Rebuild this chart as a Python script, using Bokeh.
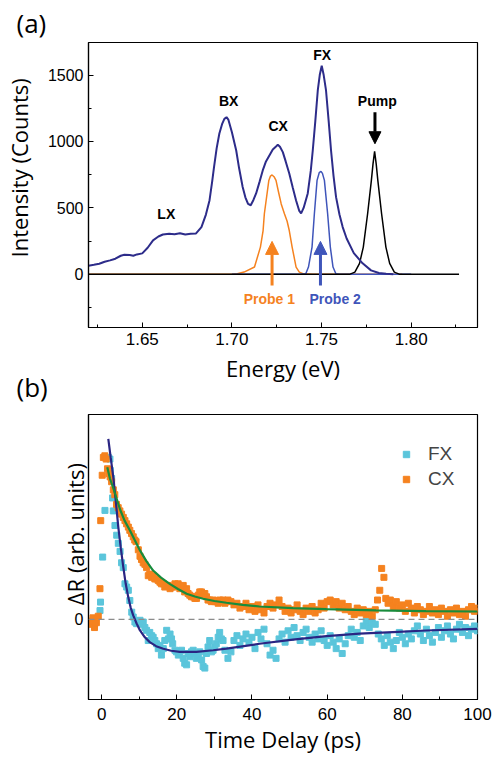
from bokeh.plotting import figure
from bokeh.models import (Range1d, SingleIntervalTicker, FixedTicker, NumeralTickFormatter,
                          Label, Arrow, NormalHead, Span, Legend, LegendItem)
from bokeh.layouts import column
from bokeh.embed import file_html
from bokeh.resources import INLINE

# ---------------- Panel (a) data : PL spectrum and laser spectra ----------------
pl_energy = [1.620, 1.623, 1.626, 1.629, 1.632, 1.635, 1.638, 1.640, 1.643, 1.645, 1.647, 1.650,
             1.653, 1.656, 1.659, 1.6615, 1.665, 1.668, 1.671, 1.674, 1.677, 1.680, 1.683, 1.6855,
             1.6875, 1.689, 1.690, 1.6915, 1.693, 1.6945, 1.6958, 1.697, 1.698, 1.700, 1.7024,
             1.704, 1.706, 1.7075, 1.709, 1.7105, 1.712, 1.7135, 1.7155, 1.7172, 1.719, 1.7209,
             1.7228, 1.7246, 1.7256, 1.7268, 1.7284, 1.730, 1.732, 1.734, 1.7358, 1.7375, 1.7386,
             1.740, 1.7423, 1.744, 1.7451, 1.7465, 1.7479, 1.749, 1.7501, 1.7512, 1.7525, 1.754,
             1.7553, 1.7567, 1.7581, 1.760, 1.7618, 1.7640, 1.768, 1.7729, 1.7776, 1.782, 1.786, 1.790]
pl_counts = [65, 72, 80, 95, 105, 118, 140, 148, 145, 140, 150, 158,
             200, 256, 285, 300, 306, 302, 310, 300, 306, 308, 355, 450,
             556, 700, 805, 950, 1060, 1130, 1170, 1183, 1165, 1070, 932,
             800, 657, 580, 530, 520, 560, 609, 700, 782, 850, 895,
             940, 962, 975, 960, 920, 850, 759, 650, 556, 480, 459,
             500, 609, 780, 932, 1150, 1384, 1500, 1570, 1500, 1384, 1150,
             932, 740, 581, 450, 356, 270, 160, 83, 30, 10, 4, 0]

probe1_energy = [1.620, 1.700, 1.703, 1.7068, 1.7126, 1.7159, 1.7174, 1.7181, 1.7206, 1.7215, 1.7224,
                 1.7235, 1.7246, 1.726, 1.7275, 1.7293, 1.7308, 1.732, 1.7336, 1.7358, 1.7376, 1.740,
                 1.745, 1.795]
probe1_counts = [0, 0, 4, 17, 55, 205, 330, 456, 707, 740, 748,
                 735, 707, 620, 530, 456, 400, 330, 205, 55, 17, 4,
                 0, 0]

probe2_energy = [1.700, 1.738, 1.7412, 1.7427, 1.7447, 1.746, 1.7475, 1.7487, 1.7497, 1.7505, 1.7516,
                 1.7534, 1.7549, 1.7564, 1.758, 1.760, 1.800]
probe2_counts = [0, 0, 5, 55, 205, 456, 707, 765, 775, 760, 707,
                 456, 205, 55, 5, 0, 0]

pump_energy = [1.620, 1.7656, 1.7686, 1.7712, 1.7733, 1.7757, 1.7778, 1.7787, 1.7796, 1.7805, 1.7814,
               1.7835, 1.7859, 1.788, 1.7906, 1.7936, 1.8267]
pump_counts = [0, 0, 17, 83, 205, 456, 707, 830, 925, 830, 707,
               456, 205, 83, 17, 0, 0]

# ---------------- Panel (b) data : differential reflectance ----------------
cx_time = [-3.3, -2.8, -2.3, -1.9, -1.4, -0.9, -0.45, -0.25, 0.15, 0.45, 0.85, 1.2, 1.55, 1.9, 2.25,
           2.65, 3.1, 3.5, 3.95, 4.4, 4.85, 5.3, 5.75, 6.2, 6.65, 7.1, 7.5, 7.95, 8.4, 8.8, 9.15,
           9.75, 10.2, 10.6, 11.05, 11.5, 11.95, 12.4, 12.8, 13.3, 13.7, 14.15, 14.6, 15.05, 15.5,
           15.9, 16.4, 16.8, 17.3, 17.7, 18.2, 18.6, 19.05, 19.5, 19.9, 20.35, 20.8, 21.25, 21.7,
           22.1, 22.6, 23.0, 23.45, 23.9, 24.35, 24.8, 25.25, 25.7, 26.1, 26.55, 27.0, 27.45, 27.9,
           28.3, 28.75, 29.2, 29.65, 30.1, 30.55, 31.0, 31.4, 31.85, 32.3, 32.8,
           33.6, 34.4, 35.2, 36.0, 36.8, 37.6, 38.4, 39.2, 40.0, 40.8, 41.6, 42.4, 43.2, 44.0, 44.8,
           45.6, 46.4, 47.2, 48.0, 48.8, 49.6, 50.4, 51.2, 52.0, 52.8, 53.6, 54.4, 55.2, 56.0, 56.8,
           57.6, 58.4, 59.2, 60.0, 60.8, 61.6, 62.4, 63.2, 64.0, 64.8, 65.6, 66.4, 67.2, 68.0, 68.8,
           69.6, 70.4, 71.2, 72.0, 72.8, 73.4, 74.0, 74.5, 75.1, 75.6, 76.2, 76.8, 77.6, 78.4, 79.2,
           80.0, 80.8, 81.6, 82.4, 83.2, 84.0, 84.8, 85.6, 86.4, 87.2, 88.0, 88.8, 89.6, 90.4, 91.2,
           92.0, 92.8, 93.6, 94.4, 95.2, 96.0, 96.8, 97.6, 98.4, 99.2, 100.0]
cx_signal = [-0.03, -0.01, 0.01, -0.05, -0.02, 0.02, 0.19, 0.61, 0.89, 1.0, 1.01, 0.99, 0.93, 0.9, 0.88,
             0.85, 0.8, 0.77, 0.71, 0.69, 0.67, 0.65, 0.63, 0.61, 0.59, 0.57, 0.55, 0.53, 0.51, 0.49, 0.48,
             0.43, 0.39, 0.37, 0.35, 0.34, 0.32, 0.27, 0.28, 0.26, 0.27, 0.25, 0.25, 0.24, 0.23,
             0.22, 0.22, 0.2, 0.21, 0.21, 0.19, 0.2, 0.2, 0.22, 0.21, 0.22, 0.19, 0.2, 0.21,
             0.17, 0.19, 0.16, 0.15, 0.14, 0.14, 0.13, 0.13, 0.15, 0.17, 0.17, 0.15, 0.16, 0.14,
             0.12, 0.12, 0.11, 0.12, 0.11, 0.11, 0.1, 0.12, 0.11, 0.12, 0.1,
             0.12, 0.11, 0.09, 0.10, 0.07, 0.08, 0.10, 0.06, 0.08, 0.05, 0.09, 0.06, 0.04, 0.08, 0.10,
             0.07, 0.09, 0.12, 0.08, 0.05, 0.07, 0.04, 0.06, 0.09, 0.05, 0.03, 0.07, 0.05, 0.08, 0.04,
             0.06, 0.10, 0.07, 0.11, 0.12, 0.09, 0.11, 0.07, 0.10, 0.06, 0.08, 0.05, 0.03, 0.07, 0.04,
             0.06, 0.03, 0.05, 0.02, 0.06, 0.12, 0.18, 0.315, 0.26, 0.13, 0.10, 0.12, 0.08, 0.11, 0.07,
             0.09, 0.05, 0.10, 0.07, 0.04, 0.08, 0.06, 0.03, 0.05, 0.08, 0.04, 0.06, 0.03, 0.07, 0.05,
             0.02, 0.06, 0.04, 0.07, 0.03, 0.05, 0.02, 0.06, 0.08, 0.05, 0.07]

fx_time = [-0.44, -0.3, 0.27, 0.88, 1.77, 2.2, 2.3, 2.66, 2.9, 3.1, 3.54, 4.0, 4.43, 4.9, 5.3, 5.75,
           6.2, 6.65, 7.1, 7.5, 8.0, 8.4, 8.85, 9.3, 9.75, 10.2, 10.6, 11.06, 11.5, 11.95, 12.4, 12.8,
           13.3, 13.7, 14.15, 14.6, 15.05, 15.5, 15.9, 16.4, 16.8, 17.3, 17.75, 18.2, 18.6, 18.9,
           19.5, 19.9, 20.4, 20.8, 21.25, 21.7, 22.1, 22.6, 23.0, 23.5, 23.9, 24.35, 24.8, 25.2,
           25.7, 26.1, 26.6, 27.0, 27.45, 27.9, 28.3, 28.75, 29.2, 29.65, 30.1, 30.5, 31.0, 31.4,
           31.85, 32.3, 32.8,
           33.6, 34.4, 35.2, 36.0, 36.8, 37.6, 38.4, 39.2, 40.0, 40.8, 41.6, 42.4, 43.2, 44.0, 44.8,
           45.6, 46.4, 47.2, 48.0, 48.8, 49.6, 50.4, 51.2, 52.0, 52.8, 53.6, 54.4, 55.2, 56.0, 56.8,
           57.6, 58.4, 59.2, 60.0, 60.8, 61.6, 62.4, 63.2, 64.0, 64.8, 65.6, 66.4, 67.2, 68.0, 68.8,
           69.6, 70.4, 71.2, 72.0, 72.8, 73.6, 74.4, 75.2, 76.0, 76.8, 77.6, 78.4, 79.2,
           80.0, 80.8, 81.6, 82.4, 83.2, 84.0, 84.8, 85.6, 86.4, 87.2, 88.0, 88.8, 89.6, 90.4, 91.2,
           92.0, 92.8, 93.6, 94.4, 95.2, 96.0, 96.8, 97.6, 98.4, 99.2, 100.0]
fx_signal = [0.055, 0.107, 0.385, 0.673, 1.0, 0.99, 0.92, 0.87, 0.75, 0.67, 0.58, 0.52, 0.47, 0.42, 0.35, 0.32,
             0.22, 0.2, 0.18, 0.117, 0.045, 0.015, -0.016, -0.026, -0.01, -0.005, -0.03, -0.016, -0.05, -0.067, -0.13, -0.08,
             -0.1, -0.11, -0.13, -0.15, -0.18, -0.16, -0.22, -0.18, -0.13, -0.067, -0.12, -0.09, -0.12, -0.15,
             -0.19, -0.2, -0.22, -0.2, -0.19, -0.24, -0.27, -0.28, -0.21, -0.23, -0.2, -0.19, -0.21, -0.24,
             -0.22, -0.2, -0.25, -0.29, -0.3, -0.21, -0.17, -0.13, -0.2, -0.19, -0.17, -0.15, -0.11, -0.08,
             -0.12, -0.13, -0.19,
             -0.24, -0.20, -0.13, -0.10, -0.16, -0.12, -0.09, -0.14, -0.11, -0.18, -0.08, -0.12, -0.06, -0.15, -0.22,
             -0.19, -0.24, -0.12, -0.09, -0.14, -0.07, -0.11, -0.05, -0.10, -0.13, -0.08, -0.06, -0.11, -0.14, -0.09,
             -0.12, -0.07, -0.13, -0.16, -0.10, -0.14, -0.18, -0.12, -0.21, -0.15, -0.10, -0.06, -0.11, -0.08, -0.13,
             -0.04, -0.01, -0.05, -0.02, -0.03, -0.09, -0.12, -0.16, -0.10, -0.14, -0.18, -0.13, -0.08,
             -0.11, -0.15, -0.09, -0.12, -0.07, -0.04, -0.09, -0.13, -0.06, -0.10, -0.14, -0.08, -0.05, -0.11, -0.07,
             -0.04, -0.09, -0.12, -0.06, -0.03, -0.08, -0.05, -0.10, -0.06, -0.04, -0.07]

fx_fit_time = [1.77, 2.4, 3.1, 3.8, 4.43, 5.1, 5.76, 6.4, 7.08, 7.7, 8.4, 9.3, 10.2, 11.5, 12.8, 14.5,
               16.4, 18.5, 20.8, 25.2, 29.7, 33.2, 42.0, 50.9, 59.8, 68.6, 77.5, 86.3, 100.0]
fx_fit_signal = [1.115, 1.0, 0.878, 0.72, 0.57, 0.44, 0.323, 0.22, 0.138, 0.075, 0.025, -0.025, -0.068,
                 -0.11, -0.14, -0.165, -0.181, -0.193, -0.2, -0.2, -0.19, -0.18, -0.15, -0.124, -0.103,
                 -0.088, -0.078, -0.068, -0.058]

cx_fit_time = [1.5, 2.2, 3.1, 4.0, 4.87, 6.1, 7.5, 8.8, 10.2, 11.9, 13.7, 15.8, 18.1, 20.3, 22.6, 24.8,
               27.0, 30.0, 33.2, 37.5, 42.0, 50.9, 59.8, 73.0, 86.3, 100.0]
cx_fit_signal = [0.94, 0.87, 0.81, 0.745, 0.68, 0.61, 0.55, 0.49, 0.426, 0.36, 0.302, 0.258, 0.22, 0.188,
                 0.159, 0.142, 0.128, 0.114, 0.103, 0.09, 0.08, 0.07, 0.064, 0.056, 0.051, 0.049]

# ---------------- styles ----------------
NAVY = "#2D2C8A"
ORANGE = "#F5821F"
BLUE = "#3F55BA"
CYAN = "#5BC5DB"
GREEN = "#188C3C"
TICK_FONT = "Liberation Sans"
LABEL_FONT = "Open Sans"
NBSP = "\u00a0"


def style_axes(p):
    for ax in (p.xaxis[0], p.yaxis[0]):
        ax.major_tick_in = 5
        ax.major_tick_out = 0
        ax.minor_tick_in = 3
        ax.minor_tick_out = 0
        ax.axis_line_color = "black"
        ax.axis_line_width = 1.2
        ax.major_tick_line_color = "black"
        ax.minor_tick_line_color = "black"
        ax.major_label_text_font = TICK_FONT
        ax.major_label_text_font_size = "16px"
        ax.major_label_text_color = "black"
        ax.axis_label_text_font = LABEL_FONT
        ax.axis_label_text_font_size = "22px"
        ax.axis_label_text_font_style = "normal"
        ax.axis_label_text_color = "black"
    p.xgrid.visible = False
    p.ygrid.visible = False
    p.outline_line_color = "black"
    p.outline_line_width = 1.2
    p.background_fill_color = "white"


def style_title(t, offset, valign, standoff):
    t.align = "left"
    t.offset = offset
    t.vertical_align = valign
    t.standoff = standoff
    t.text_font = LABEL_FONT
    t.text_font_size = "26px"
    t.text_font_style = "normal"
    t.text_color = "black"


# ---------------- Panel (a) ----------------
p1 = figure(width=492, height=388, x_range=Range1d(1.62, 1.837), y_range=Range1d(-400, 1745),
            output_backend="svg", toolbar_location=None, title="(a)",
            min_border_left=87, min_border_right=15, min_border_top=42, min_border_bottom=61)
style_axes(p1)
style_title(p1.title, -72, "bottom", 4)
p1.xaxis.ticker = SingleIntervalTicker(interval=0.05, num_minor_ticks=2)
p1.xaxis.formatter = NumeralTickFormatter(format="0.00")
p1.yaxis.ticker = SingleIntervalTicker(interval=500, num_minor_ticks=2)
p1.xaxis.major_label_text_font_size = "17px"
p1.xaxis.axis_label = "Energy (eV)"
p1.xaxis.major_label_standoff = 5
p1.xaxis.axis_label_standoff = 5
p1.yaxis.axis_label = NBSP * 6 + "Intensity (Counts)"
p1.yaxis.axis_label_standoff = 11

p1.line(probe1_energy, probe1_counts, line_color=ORANGE, line_width=1.5)
p1.line(probe2_energy, probe2_counts, line_color=BLUE, line_width=1.5)
p1.line(pump_energy, pump_counts, line_color="black", line_width=1.5)
p1.line(pl_energy, pl_counts, line_color=NAVY, line_width=2)

p1.add_layout(Arrow(end=NormalHead(size=12, fill_color="black", line_color="black"),
                    x_start=1.7798, y_start=1220, x_end=1.7798, y_end=983,
                    line_color="black", line_width=3))
p1.add_layout(Arrow(end=NormalHead(size=13, fill_color=ORANGE, line_color=ORANGE),
                    x_start=1.7224, y_start=-83, x_end=1.7224, y_end=248,
                    line_color=ORANGE, line_width=3))
p1.add_layout(Arrow(end=NormalHead(size=13, fill_color=BLUE, line_color=BLUE),
                    x_start=1.7494, y_start=-83, x_end=1.7494, y_end=248,
                    line_color=BLUE, line_width=3))

peak_labels = [("LX", 1.6634, 451, "black"), ("BX", 1.6982, 1308, "black"),
               ("CX", 1.7258, 1120, "black"), ("FX", 1.7503, 1654, "black"),
               ("Pump", 1.7811, 1301, "black"), ("Probe 1", 1.7209, -188, ORANGE),
               ("Probe 2", 1.7576, -188, BLUE)]
for txt, ex, cy, col in peak_labels:
    p1.add_layout(Label(x=ex, y=cy, text=txt, text_font=TICK_FONT, text_font_size="14px",
                        text_font_style="bold", text_color=col, text_align="center",
                        text_baseline="middle"))

# ---------------- Panel (b) ----------------
p2 = figure(width=492, height=406, x_range=Range1d(-3.5, 100), y_range=Range1d(-0.494, 1.265),
            output_backend="svg", toolbar_location=None, title="(b)",
            min_border_left=87, min_border_right=15, min_border_top=62, min_border_bottom=59,
            styles={"margin-top": "-36px"})
p2.border_fill_alpha = 0
style_axes(p2)
style_title(p2.title, -72, "top", 15)
p2.xaxis.ticker = SingleIntervalTicker(interval=20, num_minor_ticks=2)
p2.yaxis.ticker = FixedTicker(ticks=[0], minor_ticks=[])
p2.yaxis.major_tick_in = 0
p2.xaxis.major_label_text_font_size = "17px"
p2.xaxis.axis_label = "Time Delay (ps)"
p2.xaxis.major_label_standoff = 8
p2.xaxis.axis_label_standoff = 1
p2.yaxis.axis_label = NBSP * 8 + "\u0394R (arb. units)"
p2.yaxis.axis_label_standoff = -18

p2.add_layout(Span(location=0, dimension="width", line_color="#8C8C8C", line_width=1.3,
                   line_dash="6 4"))
r_fx = p2.scatter(fx_time, fx_signal, marker="square", size=6, fill_color=CYAN, line_color=CYAN)
r_cx = p2.scatter(cx_time, cx_signal, marker="square", size=6, fill_color=ORANGE, line_color=ORANGE)
p2.line(fx_fit_time, fx_fit_signal, line_color="#2A2583", line_width=2.2)
p2.line(cx_fit_time, cx_fit_signal, line_color=GREEN, line_width=2.2)

legend = Legend(items=[LegendItem(label="FX", renderers=[r_fx]),
                       LegendItem(label="CX", renderers=[r_cx])],
                location=(310, 208), padding=0, margin=0, spacing=0,
                glyph_width=16, glyph_height=16, label_height=25, label_standoff=14,
                label_text_font=TICK_FONT, label_text_font_size="19px",
                border_line_color=None, background_fill_alpha=0)
p2.add_layout(legend)

layout = column(p1, p2, spacing=0)
open("out.html", "w").write(file_html(layout, INLINE))
